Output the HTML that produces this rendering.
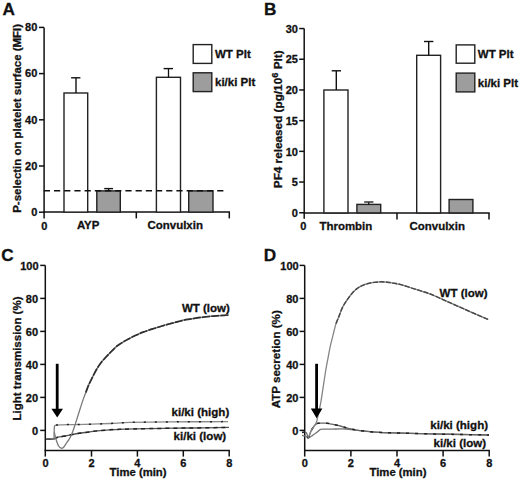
<!DOCTYPE html>
<html><head><meta charset="utf-8"><style>
html,body{margin:0;padding:0;background:#fff;}
svg{display:block;}
text{font-family:"Liberation Sans",sans-serif;font-weight:bold;fill:#111;stroke:#111;stroke-width:0.3px;}
</style></head><body>
<svg width="520" height="481" viewBox="0 0 520 481">
<rect width="520" height="481" fill="#fff"/>
<text x="2.60" y="15.20" font-size="17.2" text-anchor="start" >A</text>
<line x1="44.10" y1="27.40" x2="44.10" y2="218.60" stroke="#111" stroke-width="1.5" />
<line x1="39.00" y1="212.20" x2="44.10" y2="212.20" stroke="#111" stroke-width="1.5" />
<text x="37.30" y="215.90" font-size="11.0" text-anchor="end" >0</text>
<line x1="39.00" y1="166.00" x2="44.10" y2="166.00" stroke="#111" stroke-width="1.5" />
<text x="37.30" y="169.70" font-size="11.0" text-anchor="end" >20</text>
<line x1="39.00" y1="119.80" x2="44.10" y2="119.80" stroke="#111" stroke-width="1.5" />
<text x="37.30" y="123.50" font-size="11.0" text-anchor="end" >40</text>
<line x1="39.00" y1="73.60" x2="44.10" y2="73.60" stroke="#111" stroke-width="1.5" />
<text x="37.30" y="77.30" font-size="11.0" text-anchor="end" >60</text>
<line x1="39.00" y1="27.40" x2="44.10" y2="27.40" stroke="#111" stroke-width="1.5" />
<text x="37.30" y="31.10" font-size="11.0" text-anchor="end" >80</text>
<line x1="43.40" y1="212.10" x2="230.00" y2="212.10" stroke="#111" stroke-width="1.5" />
<line x1="136.30" y1="212.10" x2="136.30" y2="218.40" stroke="#111" stroke-width="1.5" />
<line x1="229.30" y1="212.10" x2="229.30" y2="218.40" stroke="#111" stroke-width="1.5" />
<rect x="64.0" y="93.0" width="23.7" height="119.1" fill="#fff" stroke="#222" stroke-width="1.4"/>
<rect x="156.4" y="77.3" width="24.1" height="134.8" fill="#fff" stroke="#222" stroke-width="1.4"/>
<rect x="96.8" y="190.9" width="23.5" height="21.2" fill="#9d9d9d" stroke="#222" stroke-width="1.4"/>
<rect x="188.7" y="190.9" width="24.3" height="21.2" fill="#9d9d9d" stroke="#222" stroke-width="1.4"/>
<line x1="76.00" y1="93.00" x2="76.00" y2="77.80" stroke="#111" stroke-width="1.4" />
<line x1="71.10" y1="77.80" x2="80.40" y2="77.80" stroke="#111" stroke-width="1.4" />
<line x1="168.50" y1="77.30" x2="168.50" y2="68.60" stroke="#111" stroke-width="1.3" />
<line x1="163.60" y1="68.60" x2="173.00" y2="68.60" stroke="#111" stroke-width="1.4" />
<line x1="108.60" y1="190.90" x2="108.60" y2="188.60" stroke="#111" stroke-width="1.3" />
<line x1="104.20" y1="188.60" x2="113.10" y2="188.60" stroke="#111" stroke-width="1.4" />
<line x1="43.80" y1="190.80" x2="225.50" y2="190.80" stroke="#111" stroke-width="1.6" stroke-dasharray="6.2 4"/>
<text x="44.30" y="229.60" font-size="11.0" text-anchor="middle" >0</text>
<text x="76.90" y="229.00" font-size="11.45" text-anchor="start" >AYP</text>
<text x="147.60" y="229.10" font-size="11.45" text-anchor="start" >Convulxin</text>
<rect x="193.2" y="44.6" width="18.6" height="18.8" fill="#fff" stroke="#222" stroke-width="1.4"/>
<rect x="193.2" y="72.8" width="18.6" height="18.8" fill="#9d9d9d" stroke="#222" stroke-width="1.4"/>
<text x="215.00" y="58.10" font-size="11.5" text-anchor="start" >WT Plt</text>
<text x="215.00" y="86.40" font-size="11.5" text-anchor="start" >ki/ki Plt</text>
<text transform="translate(20.9,118.4) rotate(-90)" font-size="11.45" text-anchor="middle">P-selectin on platelet surface (MFI)</text>
<text x="264.00" y="15.20" font-size="17.2" text-anchor="start" >B</text>
<line x1="304.20" y1="28.55" x2="304.20" y2="218.80" stroke="#111" stroke-width="1.5" />
<line x1="299.20" y1="212.75" x2="304.20" y2="212.75" stroke="#111" stroke-width="1.5" />
<text x="297.90" y="216.95" font-size="11.0" text-anchor="end" >0</text>
<line x1="299.20" y1="182.05" x2="304.20" y2="182.05" stroke="#111" stroke-width="1.5" />
<text x="297.90" y="186.25" font-size="11.0" text-anchor="end" >5</text>
<line x1="299.20" y1="151.35" x2="304.20" y2="151.35" stroke="#111" stroke-width="1.5" />
<text x="297.90" y="155.55" font-size="11.0" text-anchor="end" >10</text>
<line x1="299.20" y1="120.65" x2="304.20" y2="120.65" stroke="#111" stroke-width="1.5" />
<text x="297.90" y="124.85" font-size="11.0" text-anchor="end" >15</text>
<line x1="299.20" y1="89.95" x2="304.20" y2="89.95" stroke="#111" stroke-width="1.5" />
<text x="297.90" y="94.15" font-size="11.0" text-anchor="end" >20</text>
<line x1="299.20" y1="59.25" x2="304.20" y2="59.25" stroke="#111" stroke-width="1.5" />
<text x="297.90" y="63.45" font-size="11.0" text-anchor="end" >25</text>
<line x1="299.20" y1="28.55" x2="304.20" y2="28.55" stroke="#111" stroke-width="1.5" />
<text x="297.90" y="32.75" font-size="11.0" text-anchor="end" >30</text>
<line x1="303.50" y1="212.90" x2="489.70" y2="212.90" stroke="#111" stroke-width="1.5" />
<line x1="397.00" y1="212.90" x2="397.00" y2="219.40" stroke="#111" stroke-width="1.5" />
<line x1="489.00" y1="212.90" x2="489.00" y2="219.40" stroke="#111" stroke-width="1.5" />
<rect x="323.9" y="90.0" width="24.1" height="122.9" fill="#fff" stroke="#222" stroke-width="1.4"/>
<rect x="416.7" y="55.3" width="23.9" height="157.6" fill="#fff" stroke="#222" stroke-width="1.4"/>
<rect x="356.9" y="204.4" width="23.8" height="8.5" fill="#9d9d9d" stroke="#222" stroke-width="1.4"/>
<rect x="449.1" y="199.5" width="23.8" height="13.4" fill="#9d9d9d" stroke="#222" stroke-width="1.4"/>
<line x1="336.30" y1="90.00" x2="336.30" y2="70.80" stroke="#111" stroke-width="1.4" />
<line x1="331.70" y1="70.80" x2="341.00" y2="70.80" stroke="#111" stroke-width="1.4" />
<line x1="428.70" y1="55.30" x2="428.70" y2="41.50" stroke="#111" stroke-width="1.4" />
<line x1="424.00" y1="41.50" x2="433.40" y2="41.50" stroke="#111" stroke-width="1.4" />
<line x1="368.70" y1="204.40" x2="368.70" y2="202.00" stroke="#111" stroke-width="1.3" />
<line x1="364.20" y1="202.00" x2="373.40" y2="202.00" stroke="#333" stroke-width="1.5" />
<text x="303.30" y="230.00" font-size="11.0" text-anchor="middle" >0</text>
<text x="319.50" y="229.80" font-size="11.45" text-anchor="start" >Thrombin</text>
<text x="409.60" y="230.10" font-size="11.45" text-anchor="start" >Convulxin</text>
<rect x="456.2" y="44.9" width="18.6" height="18.3" fill="#fff" stroke="#222" stroke-width="1.4"/>
<rect x="456.2" y="73.1" width="18.6" height="18.8" fill="#9d9d9d" stroke="#222" stroke-width="1.4"/>
<text x="477.80" y="58.30" font-size="11.5" text-anchor="start" >WT Plt</text>
<text x="477.80" y="86.50" font-size="11.5" text-anchor="start" >ki/ki Plt</text>
<text transform="translate(282.1,119.3) rotate(-90)" font-size="11.75" text-anchor="middle">PF4 released (pg/10<tspan font-size="9.4" dy="-4.4">6</tspan><tspan dy="4.4"> Plt)</tspan></text>
<text x="1.20" y="260.70" font-size="17.2" text-anchor="start" >C</text>
<line x1="45.30" y1="265.40" x2="45.30" y2="456.60" stroke="#111" stroke-width="1.5" />
<line x1="40.20" y1="430.40" x2="45.30" y2="430.40" stroke="#111" stroke-width="1.5" />
<text x="38.10" y="434.75" font-size="11.0" text-anchor="end" >0</text>
<line x1="40.20" y1="397.40" x2="45.30" y2="397.40" stroke="#111" stroke-width="1.5" />
<text x="38.10" y="401.75" font-size="11.0" text-anchor="end" >20</text>
<line x1="40.20" y1="364.40" x2="45.30" y2="364.40" stroke="#111" stroke-width="1.5" />
<text x="38.10" y="368.75" font-size="11.0" text-anchor="end" >40</text>
<line x1="40.20" y1="331.40" x2="45.30" y2="331.40" stroke="#111" stroke-width="1.5" />
<text x="38.10" y="335.75" font-size="11.0" text-anchor="end" >60</text>
<line x1="40.20" y1="298.40" x2="45.30" y2="298.40" stroke="#111" stroke-width="1.5" />
<text x="38.10" y="302.75" font-size="11.0" text-anchor="end" >80</text>
<line x1="40.20" y1="265.40" x2="45.30" y2="265.40" stroke="#111" stroke-width="1.5" />
<text x="38.60" y="269.75" font-size="11.0" text-anchor="end" >100</text>
<line x1="44.60" y1="450.40" x2="229.90" y2="450.40" stroke="#111" stroke-width="1.5" />
<text x="45.60" y="466.90" font-size="11.0" text-anchor="middle" >0</text>
<line x1="91.50" y1="450.40" x2="91.50" y2="456.60" stroke="#111" stroke-width="1.5" />
<text x="91.50" y="466.90" font-size="11.0" text-anchor="middle" >2</text>
<line x1="137.40" y1="450.40" x2="137.40" y2="456.60" stroke="#111" stroke-width="1.5" />
<text x="137.40" y="466.90" font-size="11.0" text-anchor="middle" >4</text>
<line x1="183.30" y1="450.40" x2="183.30" y2="456.60" stroke="#111" stroke-width="1.5" />
<text x="183.30" y="466.90" font-size="11.0" text-anchor="middle" >6</text>
<line x1="229.20" y1="450.40" x2="229.20" y2="456.60" stroke="#111" stroke-width="1.5" />
<text x="229.20" y="466.90" font-size="11.0" text-anchor="middle" >8</text>
<text x="109.60" y="475.90" font-size="11.3" text-anchor="start" >Time (min)</text>
<text transform="translate(21.4,358.5) rotate(-90)" font-size="11.5" text-anchor="middle">Light transmission (%)</text>
<text x="181.90" y="311.80" font-size="11.5" text-anchor="start" >WT (low)</text>
<text x="171.50" y="416.10" font-size="11.55" text-anchor="start" >ki/ki (high)</text>
<text x="173.60" y="440.20" font-size="11.55" text-anchor="start" >ki/ki (low)</text>
<text x="263.70" y="260.70" font-size="17.2" text-anchor="start" >D</text>
<line x1="304.70" y1="265.40" x2="304.70" y2="456.60" stroke="#111" stroke-width="1.5" />
<line x1="299.60" y1="430.40" x2="304.70" y2="430.40" stroke="#111" stroke-width="1.5" />
<text x="298.40" y="434.85" font-size="11.0" text-anchor="end" >0</text>
<line x1="299.60" y1="397.40" x2="304.70" y2="397.40" stroke="#111" stroke-width="1.5" />
<text x="298.40" y="401.85" font-size="11.0" text-anchor="end" >20</text>
<line x1="299.60" y1="364.40" x2="304.70" y2="364.40" stroke="#111" stroke-width="1.5" />
<text x="298.40" y="368.85" font-size="11.0" text-anchor="end" >40</text>
<line x1="299.60" y1="331.40" x2="304.70" y2="331.40" stroke="#111" stroke-width="1.5" />
<text x="298.40" y="335.85" font-size="11.0" text-anchor="end" >60</text>
<line x1="299.60" y1="298.40" x2="304.70" y2="298.40" stroke="#111" stroke-width="1.5" />
<text x="298.40" y="302.85" font-size="11.0" text-anchor="end" >80</text>
<line x1="299.60" y1="265.40" x2="304.70" y2="265.40" stroke="#111" stroke-width="1.5" />
<text x="298.70" y="269.85" font-size="11.0" text-anchor="end" >100</text>
<line x1="304.00" y1="450.40" x2="489.90" y2="450.40" stroke="#111" stroke-width="1.5" />
<text x="304.80" y="466.90" font-size="11.0" text-anchor="middle" >0</text>
<line x1="350.90" y1="450.40" x2="350.90" y2="456.60" stroke="#111" stroke-width="1.5" />
<text x="350.90" y="466.90" font-size="11.0" text-anchor="middle" >2</text>
<line x1="397.00" y1="450.40" x2="397.00" y2="456.60" stroke="#111" stroke-width="1.5" />
<text x="397.00" y="466.90" font-size="11.0" text-anchor="middle" >4</text>
<line x1="443.10" y1="450.40" x2="443.10" y2="456.60" stroke="#111" stroke-width="1.5" />
<text x="443.10" y="466.90" font-size="11.0" text-anchor="middle" >6</text>
<line x1="489.20" y1="450.40" x2="489.20" y2="456.60" stroke="#111" stroke-width="1.5" />
<text x="489.20" y="466.90" font-size="11.0" text-anchor="middle" >8</text>
<text x="369.50" y="475.90" font-size="11.3" text-anchor="start" >Time (min)</text>
<text transform="translate(280.4,359.3) rotate(-90)" font-size="11.6" text-anchor="middle">ATP secretion (%)</text>
<text x="439.60" y="296.80" font-size="11.5" text-anchor="start" >WT (low)</text>
<text x="430.30" y="428.50" font-size="11.55" text-anchor="start" >ki/ki (high)</text>
<text x="433.50" y="446.50" font-size="11.55" text-anchor="start" >ki/ki (low)</text>
<path d="M46.30,439.30 C47.58,439.23 52.03,439.27 54.00,438.90 C55.97,438.53 56.23,437.58 58.10,437.10 C59.97,436.62 62.38,436.52 65.20,436.00 C68.02,435.48 71.70,434.58 75.00,434.00 C78.30,433.42 80.83,433.07 85.00,432.50 C89.17,431.93 94.17,431.13 100.00,430.60 C105.83,430.07 111.67,429.63 120.00,429.30 C128.33,428.97 138.33,428.82 150.00,428.60 C161.67,428.38 176.83,428.20 190.00,428.00 C203.17,427.80 222.50,427.50 229.00,427.40" fill="none" stroke="#555" stroke-width="1.3" stroke-linejoin="round"/>
<path d="M46.30,439.30 C47.58,439.23 52.03,439.27 54.00,438.90 C55.97,438.53 56.23,437.58 58.10,437.10 C59.97,436.62 62.38,436.52 65.20,436.00 C68.02,435.48 71.70,434.58 75.00,434.00 C78.30,433.42 80.83,433.07 85.00,432.50 C89.17,431.93 94.17,431.13 100.00,430.60 C105.83,430.07 111.67,429.63 120.00,429.30 C128.33,428.97 138.33,428.82 150.00,428.60 C161.67,428.38 176.83,428.20 190.00,428.00 C203.17,427.80 222.50,427.50 229.00,427.40" fill="none" stroke="#222" stroke-width="1.5" stroke-dasharray="4 4"/>
<path d="M46.30,439.30 C47.58,439.23 52.72,438.97 54.00,438.90" fill="none" stroke="#555" stroke-width="1.3" stroke-linejoin="round"/>
<path d="M54.0,438.9 L54.3,426.8 Q54.6,425.1 56.0,425.1" fill="none" stroke="#7a7a7a" stroke-width="1.3"/>
<path d="M56.00,425.10 C56.72,425.07 58.30,424.98 60.30,424.90 C62.30,424.82 63.88,424.68 68.00,424.60 C72.12,424.52 78.00,424.58 85.00,424.40 C92.00,424.22 102.50,423.83 110.00,423.50 C117.50,423.17 120.00,422.67 130.00,422.40 C140.00,422.13 153.67,422.03 170.00,421.90 C186.33,421.77 218.33,421.65 228.00,421.60" fill="none" stroke="#8a8a8a" stroke-width="1.3" stroke-linejoin="round"/>
<path d="M56.00,425.10 C56.72,425.07 58.30,424.98 60.30,424.90 C62.30,424.82 63.88,424.68 68.00,424.60 C72.12,424.52 78.00,424.58 85.00,424.40 C92.00,424.22 102.50,423.83 110.00,423.50 C117.50,423.17 120.00,422.67 130.00,422.40 C140.00,422.13 153.67,422.03 170.00,421.90 C186.33,421.77 218.33,421.65 228.00,421.60" fill="none" stroke="#222" stroke-width="1.5" stroke-dasharray="2 9"/>
<path d="M54.30,432.00 C54.47,432.77 54.93,435.13 55.30,436.60 C55.67,438.07 55.95,439.23 56.50,440.80 C57.05,442.37 57.82,444.77 58.60,446.00 C59.38,447.23 60.37,448.00 61.20,448.20 C62.03,448.40 62.80,447.93 63.60,447.20 C64.40,446.47 65.07,445.13 66.00,443.80 C66.93,442.47 68.27,440.75 69.20,439.20 C70.13,437.65 70.92,436.03 71.60,434.50 C72.28,432.97 72.73,431.58 73.30,430.00 C73.87,428.42 74.48,426.57 75.00,425.00 C75.52,423.43 75.85,422.35 76.40,420.60 C76.95,418.85 77.57,416.83 78.30,414.50 C79.03,412.17 79.97,409.17 80.80,406.60 C81.63,404.03 82.47,401.45 83.30,399.10 C84.13,396.75 84.97,394.72 85.80,392.50 C86.63,390.28 87.47,387.78 88.30,385.80 C89.13,383.82 89.97,382.30 90.80,380.60 C91.63,378.90 92.33,377.48 93.30,375.60 C94.27,373.72 95.35,371.42 96.60,369.30 C97.85,367.18 99.27,364.90 100.80,362.90 C102.33,360.90 104.27,358.97 105.80,357.30 C107.33,355.63 108.47,354.48 110.00,352.90 C111.53,351.32 113.47,349.20 115.00,347.80 C116.53,346.40 117.82,345.48 119.20,344.50 C120.58,343.52 121.92,342.73 123.30,341.90 C124.68,341.07 126.12,340.27 127.50,339.50 C128.88,338.73 130.22,338.00 131.60,337.30 C132.98,336.60 134.40,335.95 135.80,335.30 C137.20,334.65 138.62,333.98 140.00,333.40 C141.38,332.82 142.72,332.32 144.10,331.80 C145.48,331.28 146.48,330.90 148.30,330.30 C150.12,329.70 152.60,328.95 155.00,328.20 C157.40,327.45 160.13,326.57 162.70,325.80 C165.27,325.03 167.83,324.30 170.40,323.60 C172.97,322.90 175.53,322.25 178.10,321.60 C180.67,320.95 183.23,320.22 185.80,319.70 C188.37,319.18 190.93,318.88 193.50,318.50 C196.07,318.12 198.65,317.73 201.20,317.40 C203.75,317.07 206.25,316.77 208.80,316.50 C211.35,316.23 213.93,316.00 216.50,315.80 C219.07,315.60 222.20,315.43 224.20,315.30 C226.20,315.17 227.78,315.05 228.50,315.00" fill="none" stroke="#7a7a7a" stroke-width="1.3" stroke-linejoin="round"/>
<path d="M85.80,392.50 C86.22,391.38 87.47,387.78 88.30,385.80 C89.13,383.82 89.97,382.30 90.80,380.60 C91.63,378.90 92.33,377.48 93.30,375.60 C94.27,373.72 95.35,371.42 96.60,369.30 C97.85,367.18 99.27,364.90 100.80,362.90 C102.33,360.90 104.27,358.97 105.80,357.30 C107.33,355.63 108.47,354.48 110.00,352.90 C111.53,351.32 113.47,349.20 115.00,347.80 C116.53,346.40 117.82,345.48 119.20,344.50 C120.58,343.52 121.92,342.73 123.30,341.90 C124.68,341.07 126.12,340.27 127.50,339.50 C128.88,338.73 130.22,338.00 131.60,337.30 C132.98,336.60 134.40,335.95 135.80,335.30 C137.20,334.65 138.62,333.98 140.00,333.40 C141.38,332.82 142.72,332.32 144.10,331.80 C145.48,331.28 146.48,330.90 148.30,330.30 C150.12,329.70 152.60,328.95 155.00,328.20 C157.40,327.45 160.13,326.57 162.70,325.80 C165.27,325.03 167.83,324.30 170.40,323.60 C172.97,322.90 175.53,322.25 178.10,321.60 C180.67,320.95 183.23,320.22 185.80,319.70 C188.37,319.18 190.93,318.88 193.50,318.50 C196.07,318.12 198.65,317.73 201.20,317.40 C203.75,317.07 206.25,316.77 208.80,316.50 C211.35,316.23 213.93,316.00 216.50,315.80 C219.07,315.60 222.20,315.43 224.20,315.30 C226.20,315.17 227.78,315.05 228.50,315.00" fill="none" stroke="#303030" stroke-width="1.7" stroke-dasharray="8 1.2"/>
<path d="M302.00,435.50 C302.58,435.58 304.46,435.60 305.50,436.00 C306.54,436.40 307.27,437.87 308.25,437.90 C309.23,437.93 310.36,436.85 311.40,436.20 C312.44,435.55 313.47,434.73 314.50,434.00 C315.53,433.27 316.67,432.53 317.60,431.80 C318.53,431.07 319.28,430.05 320.10,429.60 C320.92,429.15 320.52,429.18 322.50,429.10 C324.48,429.02 328.25,429.12 332.00,429.10 C335.75,429.08 340.33,428.75 345.00,429.00 C349.67,429.25 354.17,430.05 360.00,430.60 C365.83,431.15 373.33,431.90 380.00,432.30 C386.67,432.70 391.67,432.75 400.00,433.00 C408.33,433.25 420.00,433.57 430.00,433.80 C440.00,434.03 450.17,434.20 460.00,434.40 C469.83,434.60 484.17,434.90 489.00,435.00" fill="none" stroke="#777" stroke-width="1.3" stroke-linejoin="round"/>
<path d="M302.00,432.40 C302.73,432.47 305.36,431.90 306.40,432.80 C307.44,433.70 307.42,438.22 308.25,437.80 C309.08,437.38 310.36,432.33 311.40,430.30 C312.44,428.27 313.57,426.72 314.50,425.60 C315.43,424.48 316.25,424.00 317.00,423.60 C317.75,423.20 317.33,423.27 319.00,423.20 C320.67,423.13 324.83,423.03 327.00,423.20 C329.17,423.37 329.77,423.73 332.00,424.20 C334.23,424.67 337.67,425.32 340.40,426.00 C343.13,426.68 345.13,427.53 348.40,428.30 C351.67,429.07 354.73,429.92 360.00,430.60 C365.27,431.28 373.33,431.98 380.00,432.40 C386.67,432.82 391.67,432.85 400.00,433.10 C408.33,433.35 420.00,433.67 430.00,433.90 C440.00,434.13 450.17,434.32 460.00,434.50 C469.83,434.68 484.17,434.92 489.00,435.00" fill="none" stroke="#666" stroke-width="1.3" stroke-linejoin="round"/>
<path d="M302.00,432.40 C302.73,432.47 305.36,431.90 306.40,432.80 C307.44,433.70 307.42,438.22 308.25,437.80 C309.08,437.38 310.36,432.33 311.40,430.30 C312.44,428.27 313.57,426.72 314.50,425.60 C315.43,424.48 316.25,424.00 317.00,423.60 C317.75,423.20 317.33,423.27 319.00,423.20 C320.67,423.13 324.83,423.03 327.00,423.20 C329.17,423.37 329.77,423.73 332.00,424.20 C334.23,424.67 337.67,425.32 340.40,426.00 C343.13,426.68 345.13,427.53 348.40,428.30 C351.67,429.07 354.73,429.92 360.00,430.60 C365.27,431.28 373.33,431.98 380.00,432.40 C386.67,432.82 391.67,432.85 400.00,433.10 C408.33,433.35 420.00,433.67 430.00,433.90 C440.00,434.13 450.17,434.32 460.00,434.50 C469.83,434.68 484.17,434.92 489.00,435.00" fill="none" stroke="#222" stroke-width="1.5" stroke-dasharray="3 6"/>
<path d="M308.25,437.80 C308.77,436.55 310.36,432.33 311.40,430.30 C312.44,428.27 313.65,426.98 314.50,425.60 C315.35,424.22 315.97,423.43 316.50,422.00 C317.03,420.57 316.98,420.27 317.70,417.00 C318.42,413.73 319.45,410.23 320.80,402.40 C322.15,394.57 324.60,377.37 325.80,370.00 C327.00,362.63 327.27,362.10 328.00,358.20 C328.73,354.30 329.35,350.48 330.20,346.60 C331.05,342.72 332.13,338.73 333.10,334.90 C334.07,331.07 335.07,326.57 336.00,323.60 C336.93,320.63 337.62,319.80 338.70,317.10 C339.78,314.40 341.03,310.35 342.50,307.40 C343.97,304.45 345.98,301.65 347.50,299.40 C349.02,297.15 350.08,295.65 351.60,293.90 C353.12,292.15 354.93,290.23 356.60,288.90 C358.27,287.57 359.80,286.77 361.60,285.90 C363.40,285.03 365.32,284.28 367.40,283.70 C369.48,283.12 371.87,282.72 374.10,282.40 C376.33,282.08 378.65,281.83 380.80,281.80 C382.95,281.77 384.95,281.98 387.00,282.20 C389.05,282.42 390.80,282.70 393.10,283.10 C395.40,283.50 397.98,283.87 400.80,284.60 C403.62,285.33 406.67,286.45 410.00,287.50 C413.33,288.55 417.22,289.73 420.80,290.90 C424.38,292.07 427.72,293.02 431.50,294.50 C435.28,295.98 439.27,297.92 443.50,299.80 C447.73,301.68 452.42,303.80 456.90,305.80 C461.38,307.80 465.17,309.50 470.40,311.80 C475.63,314.10 485.32,318.30 488.30,319.60" fill="none" stroke="#858585" stroke-width="1.3" stroke-linejoin="round"/>
<path d="M336.00,323.60 C336.45,322.52 337.62,319.80 338.70,317.10 C339.78,314.40 341.03,310.35 342.50,307.40 C343.97,304.45 345.98,301.65 347.50,299.40 C349.02,297.15 350.08,295.65 351.60,293.90 C353.12,292.15 354.93,290.23 356.60,288.90 C358.27,287.57 359.80,286.77 361.60,285.90 C363.40,285.03 365.32,284.28 367.40,283.70 C369.48,283.12 371.87,282.72 374.10,282.40 C376.33,282.08 378.65,281.83 380.80,281.80 C382.95,281.77 384.95,281.98 387.00,282.20 C389.05,282.42 390.80,282.70 393.10,283.10 C395.40,283.50 397.98,283.87 400.80,284.60 C403.62,285.33 406.67,286.45 410.00,287.50 C413.33,288.55 417.22,289.73 420.80,290.90 C424.38,292.07 427.72,293.02 431.50,294.50 C435.28,295.98 439.27,297.92 443.50,299.80 C447.73,301.68 452.42,303.80 456.90,305.80 C461.38,307.80 465.17,309.50 470.40,311.80 C475.63,314.10 485.32,318.30 488.30,319.60" fill="none" stroke="#484848" stroke-width="1.45" stroke-dasharray="5 1.5"/>
<rect x="55.800000000000004" y="363.8" width="2.8" height="46.0" fill="#000"/>
<path d="M51.400000000000006,408.8 L63.0,408.8 L57.2,417.6 Z" fill="#000"/>
<rect x="315.20000000000005" y="363.8" width="2.8" height="45.80000000000001" fill="#000"/>
<path d="M310.8,408.6 L322.40000000000003,408.6 L316.6,418.2 Z" fill="#000"/>
</svg>
</body></html>
